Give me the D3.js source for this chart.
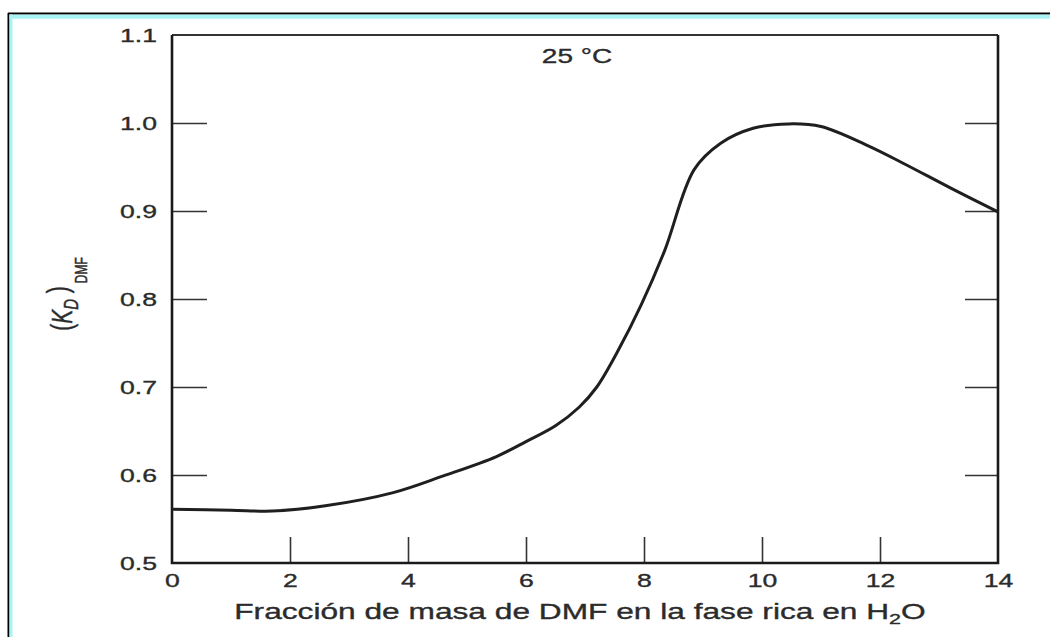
<!DOCTYPE html>
<html>
<head>
<meta charset="utf-8">
<script src="https://cdn.jsdelivr.net/npm/d3@7"></script>
<style>
  body { margin: 0; background: #fff; }
  text { font-family: "Liberation Sans", Arial, Helvetica, sans-serif; fill: #2b2b2b; stroke: #2b2b2b; stroke-width: 0.35px; }
</style>
</head>
<body>
<svg id="chart"></svg>
<script>
const WIDTH = 1050;
const HEIGHT = 637;

// datos
const massFraction = [0, 1, 1.7, 2.6, 3.75, 4.6, 5.5, 6, 6.5, 6.9, 7.2, 7.55, 7.95, 8.35, 8.85, 9.3, 9.85, 10.45, 11.0, 11.8, 12.4, 13.2, 14];
const kdDmf = [0.561, 0.56, 0.559, 0.565, 0.58, 0.599, 0.621, 0.638, 0.656, 0.677, 0.7, 0.74, 0.793, 0.855, 0.947, 0.977, 0.994, 0.999, 0.996, 0.974, 0.954, 0.926, 0.899];

const xTicks = [0, 2, 4, 6, 8, 10, 12, 14];
const xInnerTicks = [2, 4, 6, 8, 10, 12];
const yTicks = [0.5, 0.6, 0.7, 0.8, 0.9, 1.0, 1.1];
const yInnerTicks = [0.6, 0.7, 0.8, 0.9, 1.0];

const STRETCH = 1.4; // el texto original esta ensanchado

const svg = d3.select("#chart").attr("width", WIDTH).attr("height", HEIGHT);

// marco exterior
svg.append("line").attr("x1", 8).attr("x2", WIDTH).attr("y1", 13.5).attr("y2", 13.5)
  .attr("stroke", "#000").attr("stroke-width", 2);
svg.append("line").attr("x1", 8.5).attr("x2", 8.5).attr("y1", 13).attr("y2", HEIGHT)
  .attr("stroke", "#000").attr("stroke-width", 2);
svg.append("line").attr("x1", 9.5).attr("x2", WIDTH).attr("y1", 16.7).attr("y2", 16.7)
  .attr("stroke", "#a8f3f3").attr("stroke-width", 4);
svg.append("line").attr("x1", 11).attr("x2", 11).attr("y1", 14.5).attr("y2", HEIGHT)
  .attr("stroke", "#a8f3f3").attr("stroke-width", 3);

const x = d3.scaleLinear().domain([0, 14]).range([172, 998]);
const y = d3.scaleLinear().domain([0.5, 1.1]).range([563, 35]);

// ticks interiores
const styleTicks = (g) => {
  g.select(".domain").remove();
  g.selectAll("line").attr("stroke", "#333").attr("stroke-width", 1.6);
  g.selectAll("text").remove();
};

svg.append("g").attr("transform", `translate(${x(0)},0)`)
  .call(d3.axisLeft(y).tickValues(yInnerTicks).tickSize(-35))
  .call(styleTicks);

svg.append("g").attr("transform", `translate(${x(14)},0)`)
  .call(d3.axisRight(y).tickValues(yInnerTicks).tickSize(-33))
  .call(styleTicks);

svg.append("g").attr("transform", `translate(0,${y(0.5)})`)
  .call(d3.axisBottom(x).tickValues(xInnerTicks).tickSize(-26))
  .call(styleTicks);

// etiquetas de los ejes
const yLabels = svg.append("g").attr("transform", `translate(${x(0)},0)`)
  .call(d3.axisLeft(y).tickValues(yTicks).tickSize(0).tickFormat(d3.format(".1f")));
yLabels.select(".domain").remove();
yLabels.selectAll("text")
  .attr("x", -15 / STRETCH)
  .attr("transform", `scale(${STRETCH},1)`)
  .attr("font-size", 19)
  .attr("font-family", null)
  .attr("fill", null);

const xLabels = svg.append("g").attr("transform", `translate(0,${y(0.5)})`)
  .call(d3.axisBottom(x).tickValues(xTicks).tickSize(0).tickPadding(11));
xLabels.select(".domain").remove();
xLabels.selectAll("text")
  .attr("transform", `scale(${STRETCH},1)`)
  .attr("font-size", 19)
  .attr("font-family", null)
  .attr("fill", null);

// marco del grafico
svg.append("path")
  .attr("d", `M${x(0)},${y(1.1)}H${x(14)}`)
  .attr("stroke", "#333").attr("stroke-width", 2).attr("fill", "none");
svg.append("path")
  .attr("d", `M${x(0)},${y(1.1)}V${y(0.5)}H${x(14)}V${y(1.1)}`)
  .attr("stroke", "#1a1a1a").attr("stroke-width", 2.6).attr("fill", "none");

// curva
const data = massFraction.map((m, i) => ({ m, k: kdDmf[i] }));
svg.append("path")
  .datum(data)
  .attr("fill", "none")
  .attr("stroke", "#1f1f1f")
  .attr("stroke-width", 3)
  .attr("stroke-linejoin", "round")
  .attr("d", d3.line().x((d) => x(d.m)).y((d) => y(d.k)).curve(d3.curveCatmullRom.alpha(0.5)));

// textos
svg.append("g").attr("transform", `translate(577,63) scale(${STRETCH},1)`)
  .append("text").attr("text-anchor", "middle").attr("font-size", 20).text("25 °C");

const xTitle = svg.append("g").attr("transform", `translate(580,619) scale(1.44,1)`)
  .append("text").attr("text-anchor", "middle").attr("font-size", 22);
xTitle.append("tspan").text("Fracción de masa de DMF en la fase rica en H");
xTitle.append("tspan").attr("font-size", 15).attr("dy", 5).text("2");
xTitle.append("tspan").attr("dy", -5).text("O");

const yTitle = svg.append("g").attr("transform", `translate(72,294) scale(${STRETCH},1) rotate(-90)`)
  .append("text").attr("text-anchor", "middle").attr("font-size", 21);
yTitle.append("tspan").text("(");
yTitle.append("tspan").attr("font-style", "italic").text("K");
yTitle.append("tspan").attr("font-style", "italic").attr("font-size", 15).attr("dy", 4).text("D");
yTitle.append("tspan").attr("dy", -7).text(" )");
yTitle.append("tspan").attr("font-size", 12).attr("dy", 14).attr("dx", 3).text("DMF");
</script>
</body>
</html>
